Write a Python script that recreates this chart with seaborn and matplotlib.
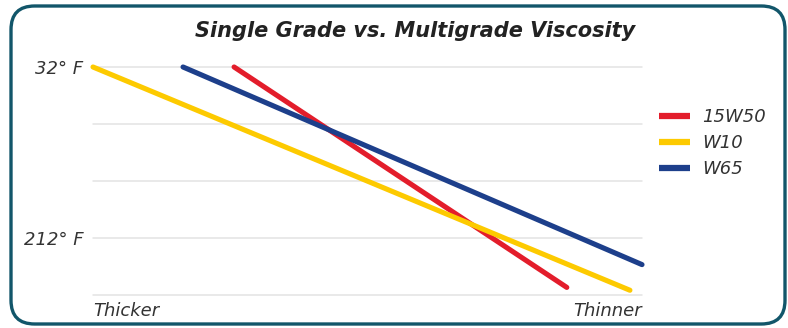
import matplotlib
matplotlib.use("Agg")
import matplotlib.pyplot as plt
from matplotlib.patches import FancyBboxPatch
from matplotlib.lines import Line2D
import seaborn as sns
import pandas as pd

# Viscosity lines: horizontal position runs from thicker (0) to thinner (100),
# vertical position is temperature in degrees F (32 at top, 212 lower down).
series = ["15W50", "W10", "W65"]
x_start = [25.7, 0.0, 16.4]
x_end = [86.3, 97.8, 100.0]
temp_start = [32, 32, 32]
temp_end = [264, 267, 240]
colors = ["#e31d2b", "#fdca00", "#1d3f8b"]

temp_ticks = [32, 212]
temp_labels = ["32° F", "212° F"]
grid_levels = [32, 92, 152, 212, 272]

rows = []
for name, x0, x1, t0, t1 in zip(series, x_start, x_end, temp_start, temp_end):
    rows.append({"grade": name, "flow": x0, "temp": t0})
    rows.append({"grade": name, "flow": x1, "temp": t1})
df = pd.DataFrame(rows)

sns.set_theme(style="white")
plt.rcParams["font.family"] = ["DejaVu Sans"]

W, H = 788, 328
fig = plt.figure(figsize=(W / 100, H / 100), dpi=100)
fig.patch.set_facecolor("white")

# rounded card frame
frame = FancyBboxPatch((11 / W, 4 / H), (774 / W), (318 / H),
                       boxstyle="round,pad=0,rounding_size=0.03",
                       transform=fig.transFigure, facecolor="white",
                       edgecolor="#12566a", linewidth=2.4, zorder=-5,
                       mutation_aspect=W / H)
fig.patches.append(frame)

ax = fig.add_axes([93 / W, 1 - 295 / H, 549 / W, (295 - 67) / H])
ax.set_facecolor("none")
ax.set_zorder(2)

for g in grid_levels:
    ax.axhline(g, color="#e3e3e3", lw=1.1, zorder=1, clip_on=False)

sns.lineplot(data=df, x="flow", y="temp", hue="grade", hue_order=series,
             palette=colors, linewidth=3.7, ax=ax, legend=False,
             solid_capstyle="round", zorder=3)
for ln in ax.lines:
    ln.set_clip_on(False)

label_color = "#333333"
ax.set_xlim(0, 100)
ax.set_ylim(272, 32)
ax.set_xticks([])
ax.set_yticks(temp_ticks)
ax.set_yticklabels(temp_labels, fontsize=13, style="italic", color=label_color)
ax.tick_params(axis="y", length=0, pad=7)
ax.set_xlabel("")
ax.set_ylabel("")
for s in ax.spines.values():
    s.set_visible(False)

ax.text(0, -0.03, "Thicker", transform=ax.transAxes, ha="left", va="top",
        fontsize=13, style="italic", color=label_color)
ax.text(1, -0.03, "Thinner", transform=ax.transAxes, ha="right", va="top",
        fontsize=13, style="italic", color=label_color)

fig.text(415 / W, 1 - 31 / H, "Single Grade vs. Multigrade Viscosity",
         ha="center", va="center", fontsize=15, fontweight="bold",
         style="italic", color="#222222")

handles = [Line2D([0], [0], color=c, lw=4.5, solid_capstyle="butt")
           for c in colors]
leg = fig.legend(handles, series, loc="center left",
                 bbox_to_anchor=(643 / W, 1 - 143 / H), frameon=False,
                 handlelength=1.7, handletextpad=0.7, labelspacing=0.45,
                 prop={"size": 13, "style": "italic"})
for t in leg.get_texts():
    t.set_color(label_color)

fig.savefig("out.png", dpi=100, facecolor="white")
